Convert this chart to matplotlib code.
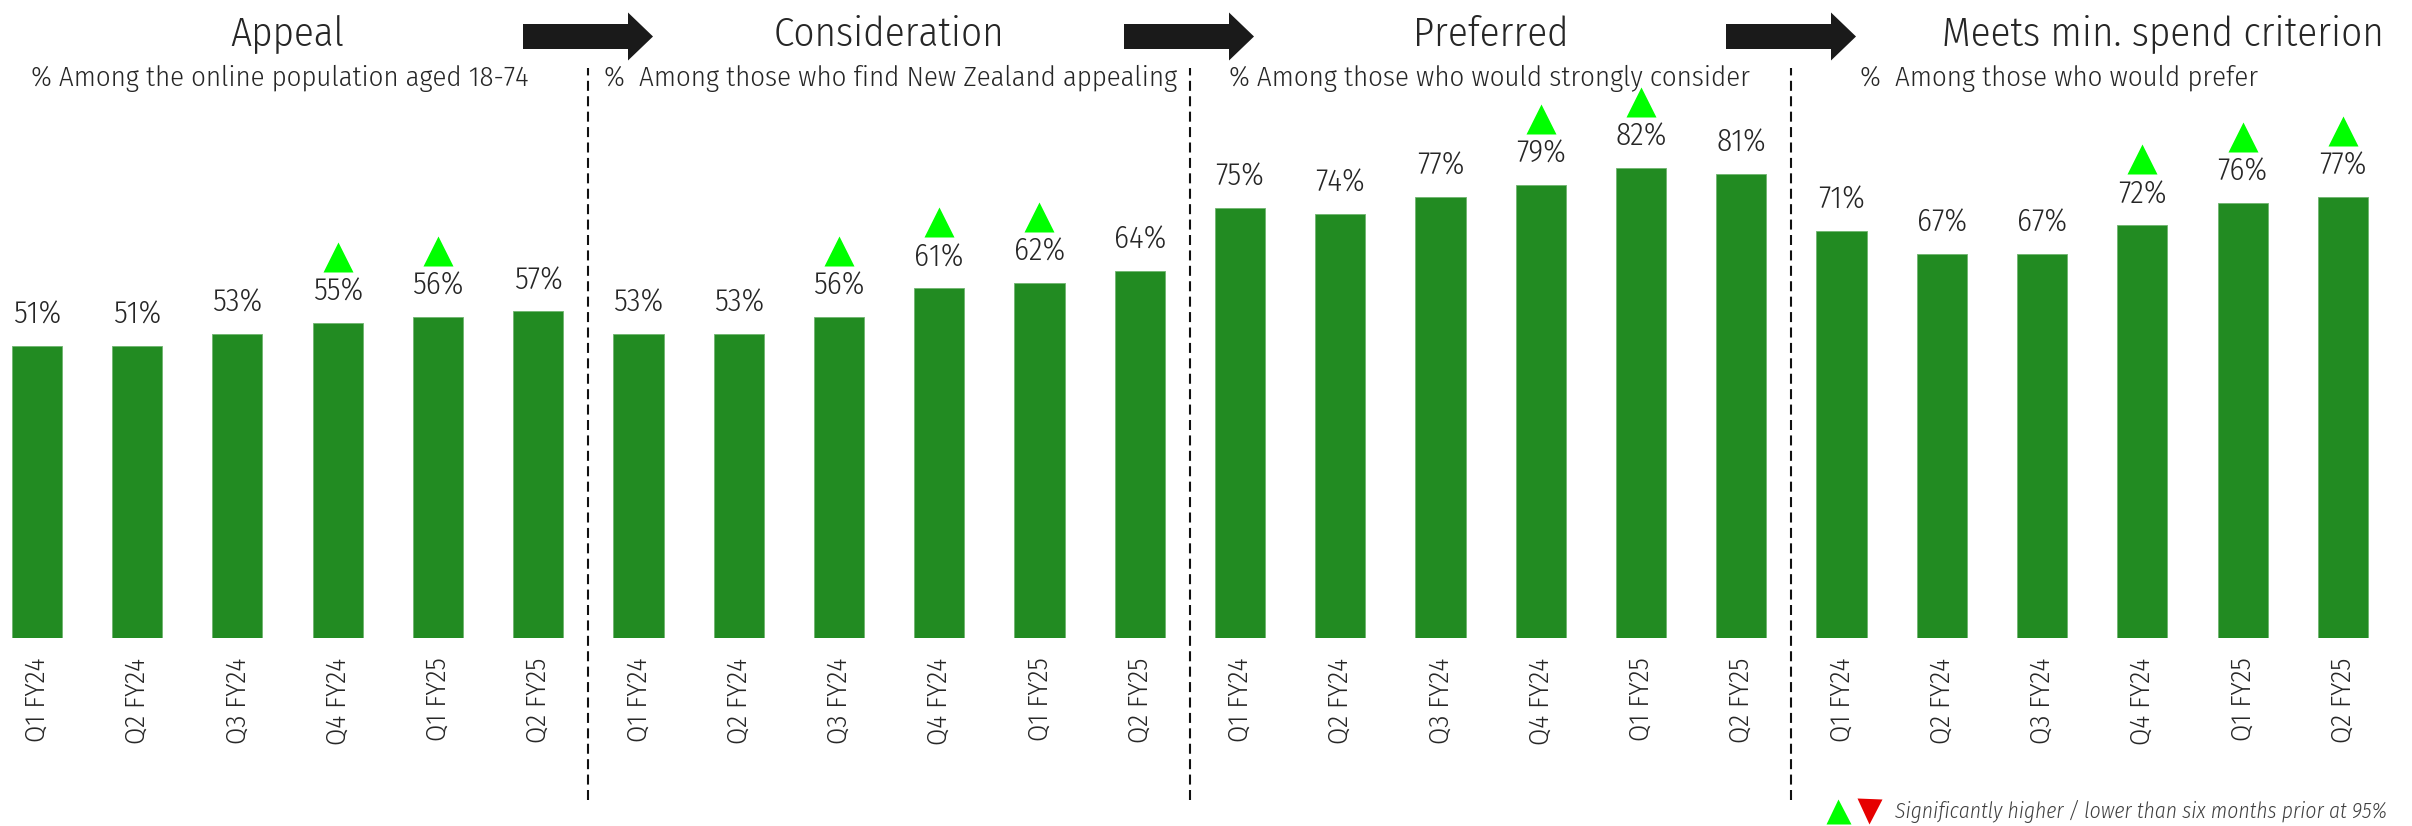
import numpy as np
import matplotlib
matplotlib.use("Agg")
import matplotlib.pyplot as plt
from matplotlib import transforms
from matplotlib.patches import Polygon

plt.rcParams["font.family"] = ["Fira Sans Condensed", "DejaVu Sans"]
plt.rcParams["font.weight"] = 300

# ---- data -------------------------------------------------------------
QUARTERS = ["Q1 FY24", "Q2 FY24", "Q3 FY24", "Q4 FY24", "Q1 FY25", "Q2 FY25"]

TITLES = ["Appeal", "Consideration", "Preferred", "Meets min. spend criterion"]
SUBTITLES = [
    "% Among the online population aged 18-74",
    "%  Among those who find New Zealand appealing",
    "% Among those who would strongly consider",
    "%  Among those who would prefer",
]

appeal        = [51, 51, 53, 55, 56, 57]
consideration = [53, 53, 56, 61, 62, 64]
preferred     = [75, 74, 77, 79, 82, 81]
min_spend     = [71, 67, 67, 72, 76, 77]

# significantly higher than six months prior (green triangle)
appeal_sig        = [False, False, False, True, True, False]
consideration_sig = [False, False, True, True, True, False]
preferred_sig     = [False, False, False, True, True, False]
min_spend_sig     = [False, False, False, True, True, True]

LEGEND_TEXT = "Significantly higher / lower than six months prior at 95%"

# ---- style ------------------------------------------------------------
BAR   = "#228B22"
UP    = "#00FF00"
DOWN  = "#E60000"
TXT   = "#262626"
W, H  = 2412, 826

panels = [appeal, consideration, preferred, min_spend]
sigs   = [appeal_sig, consideration_sig, preferred_sig, min_spend_sig]

fig = plt.figure(figsize=(W / 100, H / 100), dpi=100)
ax = fig.add_axes([0, 1 - 638 / H, 1, 573 / H])
ax.set_xlim(-0.368, 23.69)
ax.set_ylim(0, 100)
for sp in ax.spines.values():
    sp.set_visible(False)
ax.set_yticks([])

lab_tr = transforms.offset_copy(ax.transData, fig=fig, y=16, units="points")
tri_tr = transforms.offset_copy(ax.transData, fig=fig, y=47.5, units="points")

xticks, xlabels = [], []
for p, (vals, sig) in enumerate(zip(panels, sigs)):
    x = np.arange(len(vals)) + 6 * p
    ax.bar(x, vals, width=0.5, color=BAR, edgecolor="#6FB56F", linewidth=0.6)
    for xi, v, s in zip(x, vals, sig):
        ax.text(xi, v, f"{v}%", transform=lab_tr, ha="center", va="baseline",
                fontsize=22.5, color=TXT)
        if s:
            ax.plot(xi, v, marker="^", ms=21, color=UP, mec="none",
                    transform=tri_tr, clip_on=False)
    xticks += list(x)
    xlabels += QUARTERS

ax.set_xticks(xticks)
ax.set_xticklabels(xlabels, rotation=90, fontsize=20, color=TXT)
ax.tick_params(axis="x", length=0, pad=14)

# dashed dividers between the panels
blend = transforms.blended_transform_factory(ax.transData, fig.transFigure)
for xd in [5.5, 11.5, 17.5]:
    ax.plot([xd, xd], [1 - 800 / H, 1 - 68 / H], transform=blend, color="#111111",
            lw=1.5, linestyle=(0, (4.8, 2.6)), clip_on=False)

# titles and subtitles
title_x = [2.5, 8.5, 14.5, 21.21]
for tx, t in zip(title_x, TITLES):
    ax.text(tx, 1 - 34 / H, t, transform=blend, ha="center", va="center",
            fontsize=29.5, color=TXT)
sub_left = [31, 604, 1229, 1860]
for sx, s in zip(sub_left, SUBTITLES):
    fig.text(sx / W, 1 - 78 / H, s, ha="left", va="center", fontsize=20.7, color=TXT)

# block arrows between the titles
for x0 in [523, 1124, 1726]:
    body_end, tip, yc = x0 + 105, x0 + 130, 36.5
    pts = [(x0, yc - 12.5), (body_end, yc - 12.5), (body_end, yc - 24), (tip, yc),
           (body_end, yc + 24), (body_end, yc + 12.5), (x0, yc + 12.5)]
    pts = [(px / W, 1 - py / H) for px, py in pts]
    fig.add_artist(Polygon(pts, closed=True, transform=fig.transFigure,
                           facecolor="#1A1A1A", edgecolor="none"))

# legend bottom right
fig.add_artist(plt.Line2D([1838 / W], [1 - 811 / H], marker="^", ms=18, color=UP,
                          mec="none", linestyle="none", transform=fig.transFigure))
fig.add_artist(plt.Line2D([1869 / W], [1 - 811 / H], marker="v", ms=18, color=DOWN,
                          mec="none", linestyle="none", transform=fig.transFigure))
fig.text(1895 / W, 1 - 811 / H, LEGEND_TEXT, ha="left", va="center",
         fontsize=15.5, style="italic", color="#404040")

fig.savefig("out.png", dpi=100)
